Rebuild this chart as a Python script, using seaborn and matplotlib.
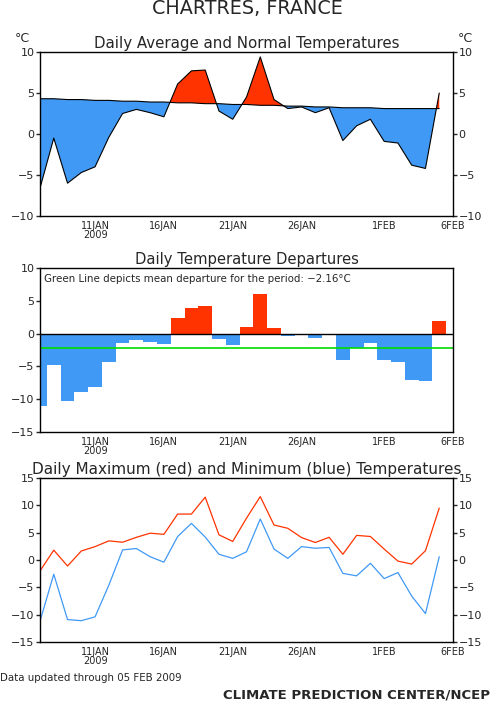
import numpy as np
import pandas as pd
import matplotlib
matplotlib.use('Agg')
import matplotlib.pyplot as plt
import seaborn as sns

# Days from 7 JAN 2009 (day 0) to 5 FEB 2009 (day 29)
days = list(range(30))
tick_pos = [4, 9, 14, 19, 25, 30]
tick_labels = ['11JAN\n2009', '16JAN', '21JAN', '26JAN', '1FEB', '6FEB']

daily_avg = [-6.6, -0.5, -6.0, -4.7, -4.0, -0.4, 2.5, 3.0, 2.6, 2.1,
             6.1, 7.7, 7.8, 2.8, 1.8, 4.5, 9.4, 4.2, 3.1, 3.3,
             2.6, 3.2, -0.8, 1.0, 1.8, -0.9, -1.1, -3.8, -4.2, 5.0]
normal = [4.3, 4.3, 4.2, 4.2, 4.1, 4.1, 4.0, 4.0, 3.9, 3.9,
          3.8, 3.8, 3.7, 3.7, 3.6, 3.6, 3.5, 3.5, 3.4, 3.4,
          3.3, 3.3, 3.2, 3.2, 3.2, 3.1, 3.1, 3.1, 3.1, 3.1]
departure = [-11.0, -4.8, -10.2, -8.85, -8.1, -4.4, -1.4, -0.95, -1.25, -1.66,
             2.4, 3.94, 4.25, -0.8, -1.8, 1.04, 6.07, 0.89, -0.3, 0.0,
             -0.65, 0.0, -4.0, -2.2, -1.45, -4.0, -4.3, -7.0, -7.3, 1.95]
mean_departure = -2.16
t_max = [-2.0, 1.8, -1.1, 1.65, 2.45, 3.5, 3.25, 4.15, 4.9, 4.7,
         8.4, 8.4, 11.5, 4.6, 3.4, 7.65, 11.6, 6.4, 5.8, 4.1,
         3.2, 4.15, 1.05, 4.5, 4.3, 2.0, -0.2, -0.75, 1.7, 9.5]
t_min = [-11.2, -2.6, -10.9, -11.1, -10.4, -4.6, 1.85, 2.1, 0.6, -0.4,
         4.3, 6.7, 4.2, 1.05, 0.3, 1.5, 7.5, 2.0, 0.3, 2.45,
         2.15, 2.3, -2.45, -2.9, -0.6, -3.4, -2.3, -6.6, -9.8, 0.6]

RED = '#ff3300'
BLUE = '#4099f4'
GREEN = '#00dd00'

sns.set_style('white')
plt.rcParams['font.family'] = ['DejaVu Sans']
plt.rcParams['font.size'] = 8

fig = plt.figure(figsize=(4.91, 7.03), dpi=100)
W, H = 491, 703


def make_ax(top, bottom):
    return fig.add_axes([40 / W, 1 - bottom / H, 413 / W, (bottom - top) / H])


def style_ax(ax, ylim, yticks, right_labels):
    ax.set_xlim(0, 30)
    ax.set_ylim(*ylim)
    ax.set_yticks(yticks)
    ax.set_xticks(tick_pos)
    ax.set_xticklabels(tick_labels, fontsize=7, linespacing=0.9)
    ax.set_xlabel('')
    ax.set_ylabel('')
    for s in ax.spines.values():
        s.set_color('black')
        s.set_linewidth(1)
    ax.tick_params(axis='x', direction='inout', length=5, width=1, pad=1)
    ax.tick_params(axis='y', direction='out', length=3, width=1, pad=1,
                   labelsize=8, right=right_labels, labelright=right_labels, left=True)


# Panel 1: daily average and normal
ax1 = make_ax(52, 216)
x = np.array(days)
avg = np.array(daily_avg)
nrm = np.array(normal)
ax1.fill_between(x, avg, nrm, where=avg >= nrm, interpolate=True, color=RED, lw=0)
ax1.fill_between(x, avg, nrm, where=avg <= nrm, interpolate=True, color=BLUE, lw=0)
sns.lineplot(x=days, y=daily_avg, ax=ax1, color='black', linewidth=0.8)
sns.lineplot(x=days, y=normal, ax=ax1, color='black', linewidth=0.8)
style_ax(ax1, (-10, 10), [-10, -5, 0, 5, 10], True)
ax1.set_title('Daily Average and Normal Temperatures', fontsize=10.8, pad=3)
fig.text(22 / W, 1 - 38 / H, '°C', ha='center', va='center', fontsize=9)
fig.text(465 / W, 1 - 38 / H, '°C', ha='center', va='center', fontsize=9)

# Panel 2: departures
ax2 = make_ax(268, 432)
dep_df = pd.DataFrame({'day': days, 'dep': departure})
dep_df['sign'] = np.where(dep_df['dep'] >= 0, 'pos', 'neg')
sns.barplot(data=dep_df, x='day', y='dep', hue='sign', palette={'pos': RED, 'neg': BLUE},
            native_scale=True, width=1, dodge=False, saturation=1, legend=False, ax=ax2,
            linewidth=0, errorbar=None)
ax2.axhline(0, color='black', lw=1)
ax2.axhline(mean_departure, color=GREEN, lw=1.2)
style_ax(ax2, (-15, 10), [-15, -10, -5, 0, 5, 10], False)
ax2.set_title('Daily Temperature Departures', fontsize=10.6, pad=3)
ax2.text(0.3, 8.3, f'Green Line depicts mean departure for the period: {mean_departure:.2f}°C'
         .replace('-', '\u2212'), fontsize=7.4, va='center')

# Panel 3: max and min
ax3 = make_ax(478, 642)
sns.lineplot(x=days, y=t_max, ax=ax3, color=RED, linewidth=0.9)
sns.lineplot(x=days, y=t_min, ax=ax3, color=BLUE, linewidth=0.9)
style_ax(ax3, (-15, 15), [-15, -10, -5, 0, 5, 10, 15], True)
ax3.set_title('Daily Maximum (red) and Minimum (blue) Temperatures', fontsize=11, pad=3)

fig.text(247 / W, 1 - 8 / H, 'CHARTRES, FRANCE', ha='center', va='center', fontsize=13.8)
fig.text(0, 1 - 678 / H, 'Data updated through 05 FEB 2009', ha='left', va='center', fontsize=7.4)
fig.text(490 / W, 1 - 695 / H, 'CLIMATE PREDICTION CENTER/NCEP', ha='right', va='center',
         fontsize=9.5, fontweight='bold')

fig.savefig('out.png', dpi=100)
